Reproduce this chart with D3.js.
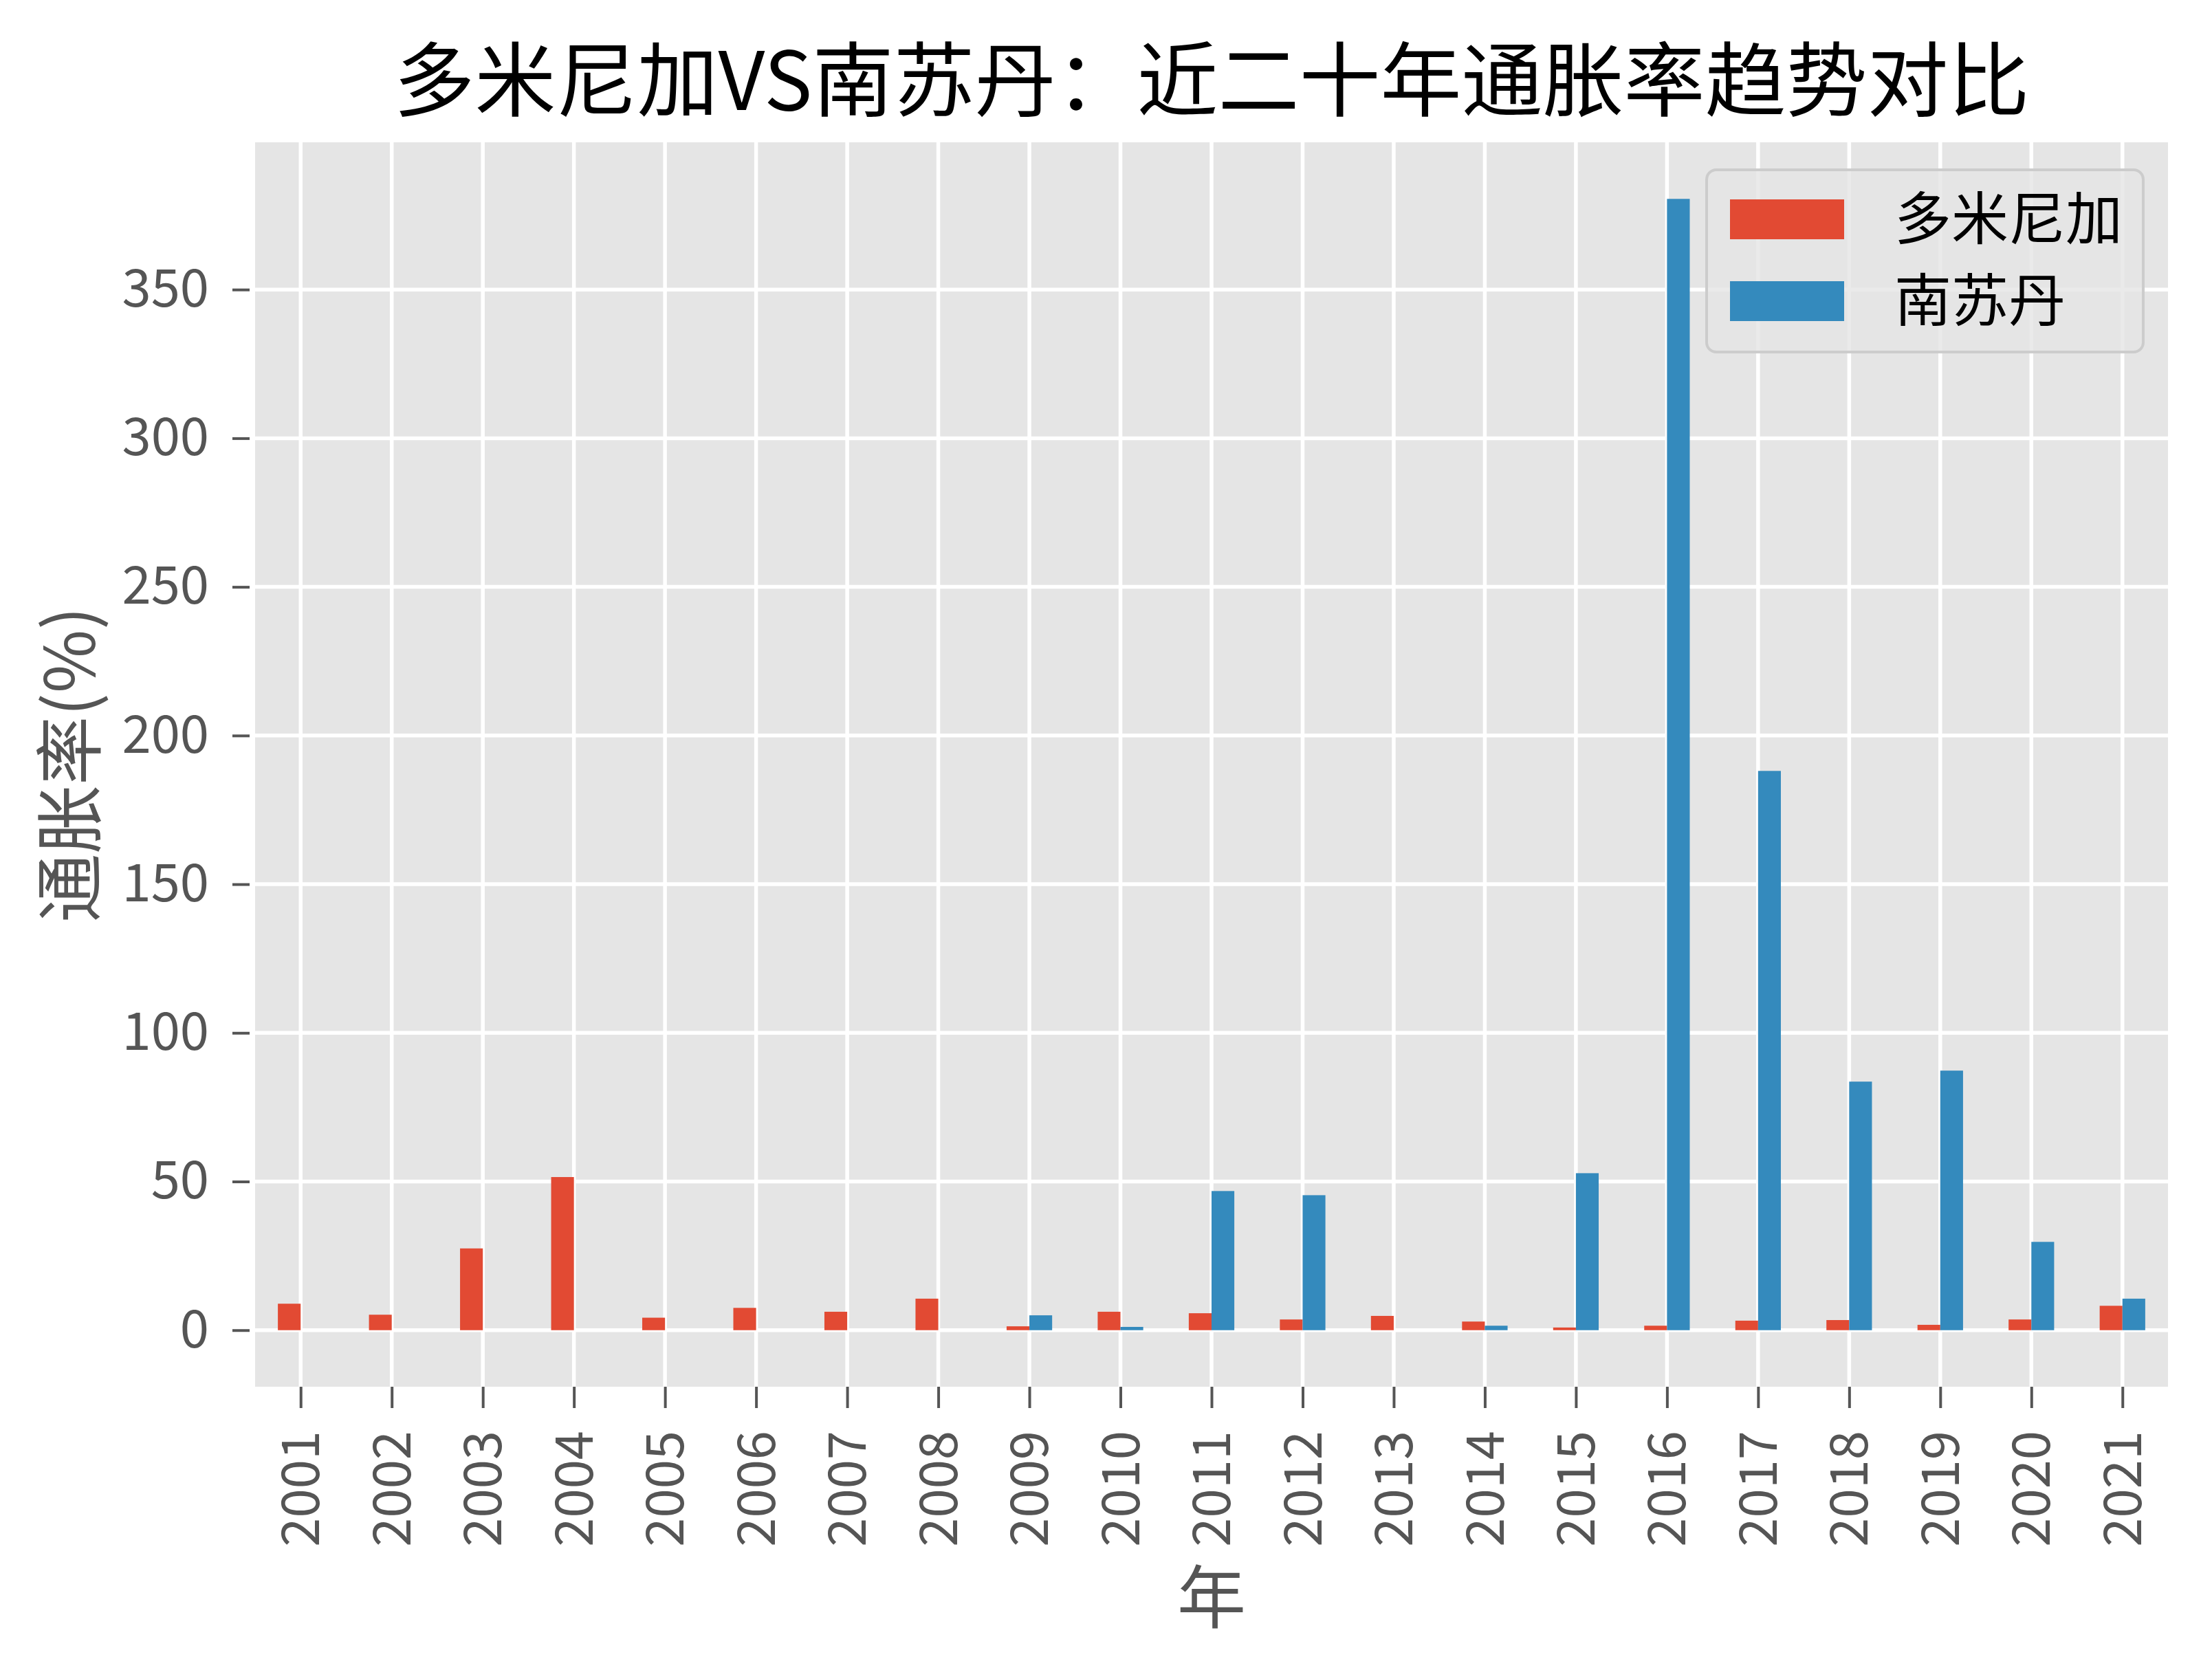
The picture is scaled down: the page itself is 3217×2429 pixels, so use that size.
<!DOCTYPE html>
<html>
<head>
<meta charset="utf-8">
<script src="https://cdn.jsdelivr.net/npm/d3@7"></script>
<style>
  body { margin: 0; background: #fff; }
  text { font-family: "Noto Sans CJK SC", "DejaVu Sans", sans-serif; }
</style>
</head>
<body>
<div id="chart"></div>
<script>
(function() {

  var width = 3217,
      height = 2429

  var margin = { top: 207, right: 64, bottom: 412, left: 371 }

  var years = ["2001", "2002", "2003", "2004", "2005", "2006", "2007", "2008", "2009", "2010",
    "2011", "2012", "2013", "2014", "2015", "2016", "2017", "2018", "2019", "2020", "2021"]
  var seriesNames = ["多米尼加", "南苏丹"]
  var dominica = [8.9, 5.2, 27.5, 51.5, 4.2, 7.5, 6.2, 10.6, 1.3, 6.2,
    5.7, 3.6, 4.8, 2.9, 0.9, 1.5, 3.2, 3.4, 1.8, 3.6, 8.2]
  var southSudan = [0, 0, 0, 0, 0, 0, 0, 0, 5.0, 1.1,
    46.8, 45.4, 0, 1.5, 52.8, 380.5, 188.1, 83.6, 87.3, 29.7, 10.6]
  var yTicks = [0, 50, 100, 150, 200, 250, 300, 350]
  var colors = ["#E24A33", "#348ABD"]

  var titleText = "多米尼加VS南苏丹：近二十年通胀率趋势对比"
  var xLabel = "年"
  var yLabel = "通胀率(%)"

  var rows = years.map(function(y, i) {
    return { year: y, values: [dominica[i], southSudan[i]] }
  })

  var svg = d3.select("#chart")
    .append("svg")
    .attr("width", width)
    .attr("height", height)

  var x0 = margin.left,
      x1 = width - margin.right,
      y0 = margin.top,
      y1 = height - margin.bottom

  // matplotlib-like y limits: 5% margin around [0, max]
  var maxVal = d3.max(southSudan.concat(dominica))
  var pad = maxVal * 0.05
  var yScale = d3.scaleLinear().domain([-pad, maxVal + pad]).range([y1, y0])

  var xScale = d3.scaleBand().domain(years).range([x0, x1]).padding(0)
  var bw = xScale.bandwidth()
  var subScale = d3.scaleBand().domain([0, 1]).range([bw * 0.25, bw * 0.75]).padding(0)

  // background
  svg.append("rect")
    .attr("x", x0)
    .attr("y", y0)
    .attr("width", x1 - x0)
    .attr("height", y1 - y0)
    .attr("fill", "#E5E5E5")

  // grid
  svg.append("g")
    .selectAll("line")
    .data(yTicks)
    .enter().append("line")
    .attr("x1", x0)
    .attr("x2", x1)
    .attr("y1", function(d) { return yScale(d) })
    .attr("y2", function(d) { return yScale(d) })
    .attr("stroke", "#fff")
    .attr("stroke-width", 5.5)

  svg.append("g")
    .selectAll("line")
    .data(years)
    .enter().append("line")
    .attr("x1", function(d) { return xScale(d) + bw / 2 })
    .attr("x2", function(d) { return xScale(d) + bw / 2 })
    .attr("y1", y0)
    .attr("y2", y1)
    .attr("stroke", "#fff")
    .attr("stroke-width", 5.5)

  // bars
  var groups = svg.append("g")
    .selectAll("g")
    .data(rows)
    .enter().append("g")
    .attr("transform", function(d) { return "translate(" + xScale(d.year) + ",0)" })

  groups.selectAll("rect")
    .data(function(d) { return d.values })
    .enter().append("rect")
    .attr("x", function(d, i) { return subScale(i) })
    .attr("width", subScale.bandwidth())
    .attr("y", function(d) { return yScale(Math.max(d, 0)) })
    .attr("height", function(d) { return Math.abs(yScale(d) - yScale(0)) })
    .attr("fill", function(d, i) { return colors[i] })

  // axes
  var yAxis = svg.append("g")
    .attr("transform", "translate(" + (x0 - 8) + ",0)")
    .call(d3.axisLeft(yScale).tickValues(yTicks).tickSize(25).tickPadding(34))
  yAxis.select(".domain").remove()
  yAxis.selectAll("line").attr("stroke", "#555").attr("stroke-width", 4)
  yAxis.selectAll("text")
    .attr("fill", "#555")
    .style("font-size", "76px")

  var xAxis = svg.append("g")
    .attr("transform", "translate(0," + y1 + ")")
    .call(d3.axisBottom(d3.scalePoint().domain(years).range([x0 + bw / 2, x1 - bw / 2]))
      .tickSize(31).tickPadding(0))
  xAxis.select(".domain").remove()
  xAxis.selectAll("line").attr("stroke", "#555").attr("stroke-width", 4)
  xAxis.selectAll("text")
    .attr("fill", "#555")
    .style("font-size", "76px")
    .attr("transform", "rotate(-90)")
    .attr("text-anchor", "end")
    .attr("x", -64)
    .attr("y", 0)
    .attr("dy", "0.35em")

  // labels
  svg.append("text")
    .attr("x", (x0 + x1) / 2)
    .attr("y", 160)
    .attr("text-anchor", "middle")
    .style("font-size", "118px")
    .style("font-weight", "400")
    .attr("fill", "#000")
    .text(titleText)

  svg.append("text")
    .attr("x", (x0 + x1) / 2)
    .attr("y", 2360)
    .attr("text-anchor", "middle")
    .style("font-size", "100px")
    .attr("fill", "#555")
    .text(xLabel)

  svg.append("text")
    .attr("transform", "translate(138," + ((y0 + y1) / 2) + ") rotate(-90)")
    .attr("text-anchor", "middle")
    .style("font-size", "100px")
    .attr("fill", "#555")
    .text(yLabel)

  // legend
  var legend = svg.append("g").attr("transform", "translate(2482,247)")
  legend.append("rect")
    .attr("width", 635)
    .attr("height", 265)
    .attr("rx", 14)
    .attr("fill", "#E5E5E5")
    .attr("fill-opacity", 0.8)
    .attr("stroke", "#CCCCCC")
    .attr("stroke-width", 4)

  var items = legend.selectAll(".item")
    .data(seriesNames)
    .enter().append("g")
    .attr("class", "item")
    .attr("transform", function(d, i) { return "translate(0," + (43 + i * 119) + ")" })

  items.append("rect")
    .attr("x", 34)
    .attr("width", 166)
    .attr("height", 58)
    .attr("fill", function(d, i) { return colors[i] })

  items.append("text")
    .attr("x", 273)
    .attr("y", 29)
    .attr("dy", "0.35em")
    .style("font-size", "83px")
    .attr("fill", "#000")
    .text(function(d) { return d })

})()
</script>
</body>
</html>
